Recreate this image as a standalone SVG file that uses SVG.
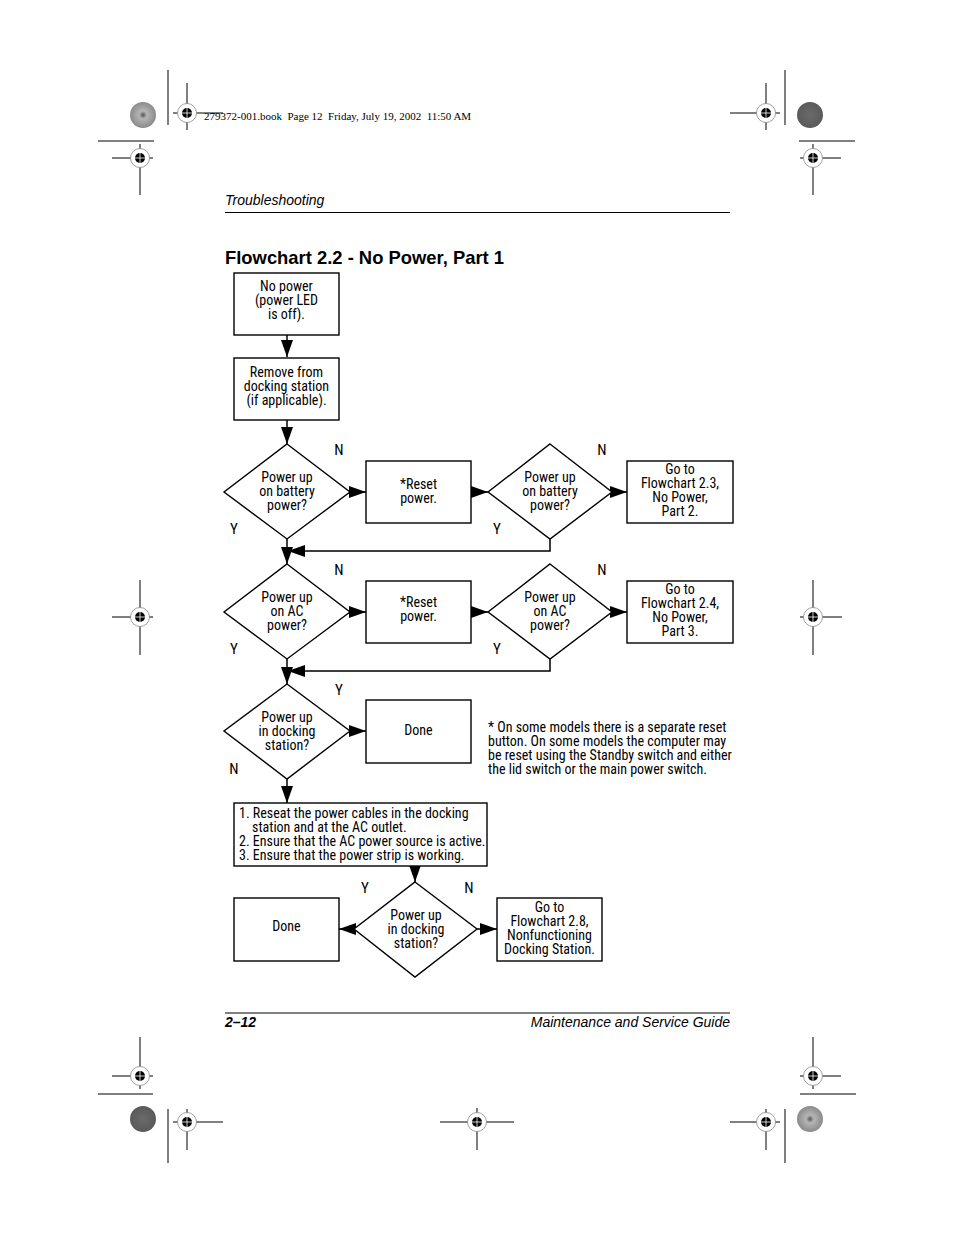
<svg xmlns="http://www.w3.org/2000/svg" xmlns:xlink="http://www.w3.org/1999/xlink" width="954" height="1235" viewBox="0 0 954 1235">
<style>
.bg{fill:#fff}
.box{fill:#fff;stroke:#000;stroke-width:1.4}
.t{font-family:"Liberation Sans Narrow","Roboto Condensed","Liberation Sans",Arial,sans-serif;font-size:14px;text-anchor:middle;fill:#000}
.tl{font-family:"Liberation Sans Narrow","Roboto Condensed","Liberation Sans",Arial,sans-serif;font-size:14px;fill:#000}
.lbl{font-family:"Liberation Sans Narrow","Roboto Condensed","Liberation Sans",Arial,sans-serif;font-size:15px;text-anchor:middle;fill:#000}
.conn{fill:none;stroke:#000;stroke-width:1.5}
.cm{stroke:#000;stroke-width:1;fill:none}
.hdr{font-family:"Liberation Sans",Arial,sans-serif;font-size:14px;font-style:italic;fill:#000}
</style>
<defs>
<marker id="ah" markerUnits="userSpaceOnUse" markerWidth="17" markerHeight="12" refX="17" refY="6" orient="auto">
<path d="M0,0 L17,6 L0,12 z" fill="#000"/>
</marker>
<g id="reg">
<circle r="9.5" fill="#fff" stroke="#888" stroke-width="0.8"/>
<circle r="5" fill="#000"/>
<path d="M-5,0H5M0,-5V5" stroke="#fff" stroke-width="0.8"/>
</g>
<radialGradient id="gl"><stop offset="0" stop-color="#555"/><stop offset="0.3" stop-color="#b5b5b5"/><stop offset="1" stop-color="#8a8a8a"/></radialGradient>
<radialGradient id="gd"><stop offset="0" stop-color="#6a6a6a"/><stop offset="1" stop-color="#5a5a5a"/></radialGradient>
</defs>
<rect class="bg" x="0" y="0" width="954" height="1235"/>

<g id="crop-marks">
<circle cx="143" cy="115" r="13" fill="url(#gl)"/>
<path class="cm" d="M168,70V125"/>
<path class="cm" d="M173,113H223M187,83V130"/>
<use xlink:href="#reg" x="187" y="113"/>
<path class="cm" d="M98,141H154M112,158H153M140,144V195"/>
<use xlink:href="#reg" x="140" y="158"/>
<path class="cm" d="M112,617H153M140,580V655"/>
<use xlink:href="#reg" x="140" y="617"/>
<path class="cm" d="M112,1076H153M140,1037V1089M98,1094H153"/>
<use xlink:href="#reg" x="140" y="1076"/>
<circle cx="143" cy="1119" r="13" fill="url(#gd)"/>
<path class="cm" d="M168,1109V1163"/>
<path class="cm" d="M173,1122H223M187,1109V1150"/>
<use xlink:href="#reg" x="187" y="1122"/>
<path class="cm" d="M440,1122H514M477,1108V1150"/>
<use xlink:href="#reg" x="477" y="1122"/>
<circle cx="810" cy="115" r="13" fill="url(#gd)"/>
<path class="cm" d="M785,70V125"/>
<path class="cm" d="M730,113H780M766,83V130"/>
<use xlink:href="#reg" x="766" y="113"/>
<path class="cm" d="M799,141H855M800,158H841M813,144V195"/>
<use xlink:href="#reg" x="813" y="158"/>
<path class="cm" d="M800,617H842M813,580V655"/>
<use xlink:href="#reg" x="813" y="617"/>
<path class="cm" d="M800,1076H841M813,1037V1089M800,1094H856"/>
<use xlink:href="#reg" x="813" y="1076"/>
<circle cx="810" cy="1119" r="13" fill="url(#gl)"/>
<path class="cm" d="M785,1109V1163"/>
<path class="cm" d="M730,1122H780M766,1109V1150"/>
<use xlink:href="#reg" x="766" y="1122"/>
</g>

<g id="page-header">
<text x="204" y="120" font-family="'Liberation Serif','Times New Roman',serif" font-size="11" xml:space="preserve">279372-001.book  Page 12  Friday, July 19, 2002  11:50 AM</text>
<text class="hdr" x="225" y="205">Troubleshooting</text>
<path d="M225,212.5H730" stroke="#000" stroke-width="1"/>
<text x="225" y="264" font-family="'Liberation Sans',Arial,sans-serif" font-size="18.4" font-weight="bold">Flowchart 2.2 - No Power, Part 1</text>
</g>

<g id="connectors">
<path class="conn" d="M287,335V357" marker-end="url(#ah)"/>
<path class="conn" d="M287,420V444" marker-end="url(#ah)"/>
<path class="conn" d="M350,492H366" marker-end="url(#ah)"/>
<path class="conn" d="M471,492H488" marker-end="url(#ah)"/>
<path class="conn" d="M612,492H627" marker-end="url(#ah)"/>
<path class="conn" d="M550,539V551H288" marker-end="url(#ah)"/>
<path class="conn" d="M287,539V564" marker-end="url(#ah)"/>
<path class="conn" d="M350,612H366" marker-end="url(#ah)"/>
<path class="conn" d="M471,612H488" marker-end="url(#ah)"/>
<path class="conn" d="M612,612H627" marker-end="url(#ah)"/>
<path class="conn" d="M550,659V671H288" marker-end="url(#ah)"/>
<path class="conn" d="M287,659V684" marker-end="url(#ah)"/>
<path class="conn" d="M350,731H366" marker-end="url(#ah)"/>
<path class="conn" d="M287,779V803" marker-end="url(#ah)"/>
<path class="conn" d="M415,866V882" marker-end="url(#ah)"/>
<path class="conn" d="M354,929H339" marker-end="url(#ah)"/>
<path class="conn" d="M477,929H497" marker-end="url(#ah)"/>
</g>

<g id="n1">
<rect class="box" x="234" y="273" width="105" height="62"/>
<text class="t" x="286.5" y="291">No power</text>
<text class="t" x="286.5" y="305">(power LED</text>
<text class="t" x="286.5" y="319">is off).</text>
</g>
<g id="n2">
<rect class="box" x="234" y="358" width="105" height="62"/>
<text class="t" x="286.5" y="377">Remove from</text>
<text class="t" x="286.5" y="391">docking station</text>
<text class="t" x="286.5" y="405">(if applicable).</text>
</g>

<g id="d1">
<polygon class="box" points="287,444 350,492 287,539 224,492"/>
<text class="t" x="287" y="482">Power up</text>
<text class="t" x="287" y="496">on battery</text>
<text class="t" x="287" y="510">power?</text>
<text class="lbl" x="339" y="455">N</text>
<text class="lbl" x="234" y="534">Y</text>
</g>
<g id="r1">
<rect class="box" x="366" y="461" width="105" height="62"/>
<text class="t" x="418.5" y="489">*Reset</text>
<text class="t" x="418.5" y="503">power.</text>
</g>
<g id="d2">
<polygon class="box" points="550,444 612,492 550,539 488,492"/>
<text class="t" x="550" y="482">Power up</text>
<text class="t" x="550" y="496">on battery</text>
<text class="t" x="550" y="510">power?</text>
<text class="lbl" x="602" y="455">N</text>
<text class="lbl" x="497" y="534">Y</text>
</g>
<g id="g1">
<rect class="box" x="627" y="461" width="106" height="62"/>
<text class="t" x="680" y="474">Go to</text>
<text class="t" x="680" y="488">Flowchart 2.3,</text>
<text class="t" x="680" y="502">No Power,</text>
<text class="t" x="680" y="516">Part 2.</text>
</g>

<g id="d3">
<polygon class="box" points="287,564 350,612 287,659 224,612"/>
<text class="t" x="287" y="602">Power up</text>
<text class="t" x="287" y="616">on AC</text>
<text class="t" x="287" y="630">power?</text>
<text class="lbl" x="339" y="575">N</text>
<text class="lbl" x="234" y="654">Y</text>
</g>
<g id="r2">
<rect class="box" x="366" y="581" width="105" height="62"/>
<text class="t" x="418.5" y="607">*Reset</text>
<text class="t" x="418.5" y="621">power.</text>
</g>
<g id="d4">
<polygon class="box" points="550,564 612,612 550,659 488,612"/>
<text class="t" x="550" y="602">Power up</text>
<text class="t" x="550" y="616">on AC</text>
<text class="t" x="550" y="630">power?</text>
<text class="lbl" x="602" y="575">N</text>
<text class="lbl" x="497" y="654">Y</text>
</g>
<g id="g2">
<rect class="box" x="627" y="581" width="106" height="62"/>
<text class="t" x="680" y="594">Go to</text>
<text class="t" x="680" y="608">Flowchart 2.4,</text>
<text class="t" x="680" y="622">No Power,</text>
<text class="t" x="680" y="636">Part 3.</text>
</g>

<g id="d5">
<polygon class="box" points="287,684 350,731 287,779 224,731"/>
<text class="t" x="287" y="722">Power up</text>
<text class="t" x="287" y="736">in docking</text>
<text class="t" x="287" y="750">station?</text>
<text class="lbl" x="339" y="695">Y</text>
<text class="lbl" x="234" y="774">N</text>
</g>
<g id="done1">
<rect class="box" x="366" y="700" width="105" height="63"/>
<text class="t" x="418.5" y="735">Done</text>
</g>
<g id="note">
<text class="tl" x="488" y="732">* On some models there is a separate reset</text>
<text class="tl" x="488" y="746">button. On some models the computer may</text>
<text class="tl" x="488" y="760">be reset using the Standby switch and either</text>
<text class="tl" x="488" y="774">the lid switch or the main power switch.</text>
</g>
<g id="steps">
<rect class="box" x="234" y="803" width="253" height="63"/>
<text class="tl" x="239" y="818">1. Reseat the power cables in the docking</text>
<text class="tl" x="252" y="832">station and at the AC outlet.</text>
<text class="tl" x="239" y="846">2. Ensure that the AC power source is active.</text>
<text class="tl" x="239" y="860">3. Ensure that the power strip is working.</text>
</g>
<g id="d6">
<polygon class="box" points="415,882 477,929 415,977 354,929"/>
<text class="t" x="416" y="920">Power up</text>
<text class="t" x="416" y="934">in docking</text>
<text class="t" x="416" y="948">station?</text>
<text class="lbl" x="365" y="893">Y</text>
<text class="lbl" x="469" y="893">N</text>
</g>
<g id="done2">
<rect class="box" x="234" y="898" width="105" height="63"/>
<text class="t" x="286.5" y="931">Done</text>
</g>
<g id="g3">
<rect class="box" x="497" y="898" width="105" height="63"/>
<text class="t" x="549.5" y="912">Go to</text>
<text class="t" x="549.5" y="926">Flowchart 2.8,</text>
<text class="t" x="549.5" y="940">Nonfunctioning</text>
<text class="t" x="549.5" y="954">Docking Station.</text>
</g>

<g id="page-footer">
<path d="M225,1013H730" stroke="#000" stroke-width="1"/>
<text x="225" y="1027" font-family="'Liberation Sans',Arial,sans-serif" font-size="14" font-weight="bold" font-style="italic">2–12</text>
<text class="hdr" x="730" y="1027" text-anchor="end">Maintenance and Service Guide</text>
</g>
</svg>
